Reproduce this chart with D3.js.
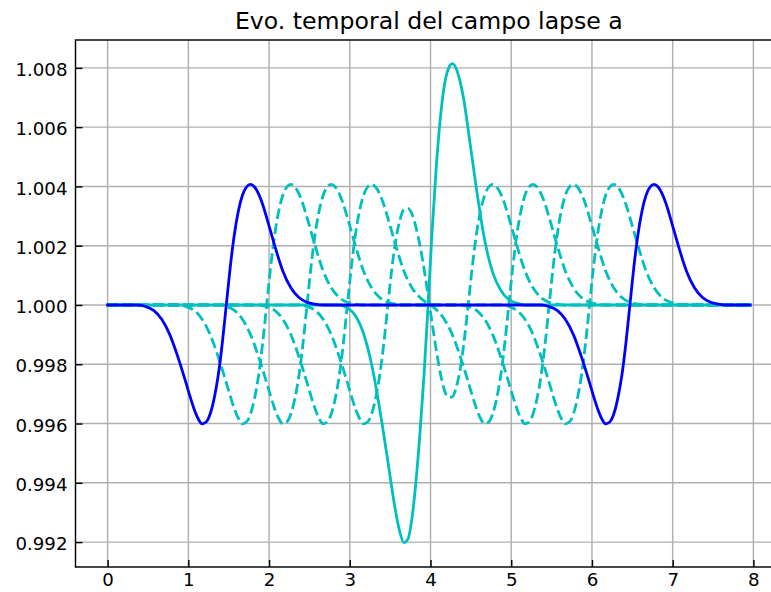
<!DOCTYPE html>
<html>
<head>
<meta charset="utf-8">
<script src="https://cdn.jsdelivr.net/npm/d3@7"></script>
<style>
   body { margin: 0; background: #fff; }
   svg { display: block; font-family: 'DejaVu Sans', sans-serif; }
</style>
</head>
<body>
<div class="line-chart-container"></div>
<script>
// lapse a(x) at successive times as [x, a] pairs

const title_text = 'Evo. temporal del campo lapse a';
const x_ticks = [0, 1, 2, 3, 4, 5, 6, 7, 8];
const y_ticks = [0.992, 0.994, 0.996, 0.998, 1.000, 1.002, 1.004, 1.006, 1.008];

const lapse_t0 = [
   [0.00, 1.00000],
   [0.37, 1.00000], [0.47, 0.99995], [0.57, 0.99982], [0.67, 0.99952], [0.77, 0.99900],
   [0.87, 0.99825], [0.97, 0.99738], [1.02, 0.99692], [1.07, 0.99650], [1.12, 0.99617],
   [1.17, 0.99599], [1.22, 0.99605], [1.27, 0.99632], [1.32, 0.99685], [1.37, 0.99762],
   [1.42, 0.99870], [1.47, 1.00000], [1.52, 1.00130], [1.57, 1.00238], [1.62, 1.00317],
   [1.67, 1.00370], [1.72, 1.00398], [1.77, 1.00407], [1.82, 1.00398], [1.87, 1.00375],
   [1.92, 1.00340], [1.97, 1.00295], [2.07, 1.00200], [2.17, 1.00115], [2.27, 1.00058],
   [2.37, 1.00025], [2.47, 1.00009], [2.57, 1.00003], [2.67, 1.00000],
   [5.37, 1.00000], [5.47, 0.99995], [5.57, 0.99982], [5.67, 0.99952], [5.77, 0.99900],
   [5.87, 0.99825], [5.97, 0.99738], [6.02, 0.99692], [6.07, 0.99650], [6.12, 0.99617],
   [6.17, 0.99599], [6.22, 0.99605], [6.27, 0.99632], [6.32, 0.99685], [6.37, 0.99762],
   [6.42, 0.99870], [6.47, 1.00000], [6.52, 1.00130], [6.57, 1.00238], [6.62, 1.00317],
   [6.67, 1.00370], [6.72, 1.00398], [6.77, 1.00407], [6.82, 1.00398], [6.87, 1.00375],
   [6.92, 1.00340], [6.97, 1.00295], [7.07, 1.00200], [7.17, 1.00115], [7.27, 1.00058],
   [7.37, 1.00025], [7.47, 1.00009], [7.57, 1.00003], [7.67, 1.00000],
   [7.96, 1.00000]
];

const lapse_t1 = [
   [0.00, 1.00000],
   [0.87, 1.00000], [0.97, 0.99995], [1.07, 0.99982], [1.17, 0.99952], [1.27, 0.99900],
   [1.37, 0.99825], [1.47, 0.99738], [1.52, 0.99692], [1.57, 0.99650], [1.62, 0.99617],
   [1.67, 0.99599], [1.72, 0.99605], [1.77, 0.99632], [1.82, 0.99685], [1.87, 0.99762],
   [1.92, 0.99870], [1.97, 1.00000], [2.02, 1.00130], [2.07, 1.00238], [2.12, 1.00317],
   [2.17, 1.00370], [2.22, 1.00398], [2.27, 1.00407], [2.32, 1.00398], [2.37, 1.00375],
   [2.42, 1.00340], [2.47, 1.00295], [2.57, 1.00200], [2.67, 1.00115], [2.77, 1.00058],
   [2.87, 1.00025], [2.97, 1.00009], [3.07, 1.00003], [3.17, 1.00000],
   [4.87, 1.00000], [4.97, 0.99995], [5.07, 0.99982], [5.17, 0.99952], [5.27, 0.99900],
   [5.37, 0.99825], [5.47, 0.99738], [5.52, 0.99692], [5.57, 0.99650], [5.62, 0.99617],
   [5.67, 0.99599], [5.72, 0.99605], [5.77, 0.99632], [5.82, 0.99685], [5.87, 0.99762],
   [5.92, 0.99870], [5.97, 1.00000], [6.02, 1.00130], [6.07, 1.00238], [6.12, 1.00317],
   [6.17, 1.00370], [6.22, 1.00398], [6.27, 1.00407], [6.32, 1.00398], [6.37, 1.00375],
   [6.42, 1.00340], [6.47, 1.00295], [6.57, 1.00200], [6.67, 1.00115], [6.77, 1.00058],
   [6.87, 1.00025], [6.97, 1.00009], [7.07, 1.00003], [7.17, 1.00000],
   [7.96, 1.00000]
];

const lapse_t2 = [
   [0.00, 1.00000],
   [1.37, 1.00000], [1.47, 0.99995], [1.57, 0.99982], [1.67, 0.99952], [1.77, 0.99900],
   [1.87, 0.99825], [1.97, 0.99738], [2.02, 0.99692], [2.07, 0.99650], [2.12, 0.99617],
   [2.17, 0.99599], [2.22, 0.99605], [2.27, 0.99632], [2.32, 0.99685], [2.37, 0.99762],
   [2.42, 0.99870], [2.47, 1.00000], [2.52, 1.00130], [2.57, 1.00238], [2.62, 1.00317],
   [2.67, 1.00370], [2.72, 1.00398], [2.77, 1.00407], [2.82, 1.00398], [2.87, 1.00375],
   [2.92, 1.00340], [2.97, 1.00295], [3.07, 1.00200], [3.17, 1.00115], [3.27, 1.00058],
   [3.37, 1.00025], [3.47, 1.00009], [3.57, 1.00003], [3.67, 1.00000],
   [4.37, 1.00000], [4.47, 0.99995], [4.57, 0.99982], [4.67, 0.99952], [4.77, 0.99900],
   [4.87, 0.99825], [4.97, 0.99738], [5.02, 0.99692], [5.07, 0.99650], [5.12, 0.99617],
   [5.17, 0.99599], [5.22, 0.99605], [5.27, 0.99632], [5.32, 0.99685], [5.37, 0.99762],
   [5.42, 0.99870], [5.47, 1.00000], [5.52, 1.00130], [5.57, 1.00238], [5.62, 1.00317],
   [5.67, 1.00370], [5.72, 1.00398], [5.77, 1.00407], [5.82, 1.00398], [5.87, 1.00375],
   [5.92, 1.00340], [5.97, 1.00295], [6.07, 1.00200], [6.17, 1.00115], [6.27, 1.00058],
   [6.37, 1.00025], [6.47, 1.00009], [6.57, 1.00003], [6.67, 1.00000],
   [7.96, 1.00000]
];

const lapse_t3 = [
   [0.00, 1.00000],
   [1.87, 1.00000], [1.97, 0.99995], [2.07, 0.99982], [2.17, 0.99952], [2.27, 0.99900],
   [2.37, 0.99825], [2.47, 0.99738], [2.52, 0.99692], [2.57, 0.99650], [2.62, 0.99617],
   [2.67, 0.99599], [2.72, 0.99605], [2.77, 0.99632], [2.82, 0.99685], [2.87, 0.99762],
   [2.92, 0.99870], [2.97, 1.00000], [3.02, 1.00130], [3.07, 1.00238], [3.12, 1.00317],
   [3.17, 1.00370], [3.22, 1.00398], [3.27, 1.00407], [3.32, 1.00398], [3.37, 1.00375],
   [3.42, 1.00340], [3.47, 1.00295], [3.57, 1.00200], [3.67, 1.00115], [3.77, 1.00058],
   [3.87, 1.00025], [3.97, 1.00004], [4.07, 0.99985], [4.17, 0.99952], [4.27, 0.99900],
   [4.37, 0.99825], [4.47, 0.99738], [4.52, 0.99692], [4.57, 0.99650], [4.62, 0.99617],
   [4.67, 0.99599], [4.72, 0.99605], [4.77, 0.99632], [4.82, 0.99685], [4.87, 0.99762],
   [4.92, 0.99870], [4.97, 1.00000], [5.02, 1.00130], [5.07, 1.00238], [5.12, 1.00317],
   [5.17, 1.00370], [5.22, 1.00398], [5.27, 1.00407], [5.32, 1.00398], [5.37, 1.00375],
   [5.42, 1.00340], [5.47, 1.00295], [5.57, 1.00200], [5.67, 1.00115], [5.77, 1.00058],
   [5.87, 1.00025], [5.97, 1.00009], [6.07, 1.00003], [6.17, 1.00000],
   [7.96, 1.00000]
];

const lapse_t4 = [
   [0.00, 1.00000],
   [2.37, 1.00000], [2.47, 0.99995], [2.57, 0.99982], [2.67, 0.99952], [2.77, 0.99900],
   [2.87, 0.99825], [2.97, 0.99738], [3.02, 0.99692], [3.07, 0.99650], [3.12, 0.99617],
   [3.17, 0.99599], [3.22, 0.99605], [3.27, 0.99632], [3.32, 0.99685], [3.37, 0.99762],
   [3.42, 0.99868], [3.47, 0.99995], [3.52, 1.00120], [3.57, 1.00220], [3.62, 1.00285],
   [3.67, 1.00322], [3.72, 1.00326], [3.77, 1.00307], [3.82, 1.00262], [3.87, 1.00200],
   [3.92, 1.00122], [3.97, 1.00033], [4.02, 0.99939], [4.07, 0.99850], [4.12, 0.99772],
   [4.17, 0.99714], [4.22, 0.99689], [4.27, 0.99690], [4.32, 0.99724], [4.37, 0.99787],
   [4.42, 0.99886], [4.47, 1.00009], [4.52, 1.00135], [4.57, 1.00241], [4.62, 1.00318],
   [4.67, 1.00370], [4.72, 1.00398], [4.77, 1.00407], [4.82, 1.00398], [4.87, 1.00375],
   [4.92, 1.00340], [4.97, 1.00295], [5.07, 1.00200], [5.17, 1.00115], [5.27, 1.00058],
   [5.37, 1.00025], [5.47, 1.00009], [5.57, 1.00003], [5.67, 1.00000],
   [7.96, 1.00000]
];

const lapse_t5 = [
   [0.00, 1.00000],
   [2.87, 1.00000], [2.97, 0.99990], [3.07, 0.99964], [3.17, 0.99904], [3.27, 0.99800],
   [3.37, 0.99650], [3.42, 0.99564], [3.47, 0.99476], [3.52, 0.99384], [3.57, 0.99300],
   [3.62, 0.99234], [3.67, 0.99198], [3.72, 0.99210], [3.77, 0.99280], [3.82, 0.99405],
   [3.87, 0.99570], [3.92, 0.99765], [3.97, 1.00000], [4.02, 1.00250], [4.07, 1.00460],
   [4.12, 1.00625], [4.17, 1.00738], [4.22, 1.00796], [4.27, 1.00814], [4.32, 1.00796],
   [4.37, 1.00750], [4.42, 1.00680], [4.47, 1.00585], [4.57, 1.00390], [4.67, 1.00220],
   [4.77, 1.00110], [4.87, 1.00050], [4.97, 1.00018], [5.07, 1.00006], [5.17, 1.00000],
   [7.96, 1.00000]
];

function prepare_series() {
   // drawing order: dashed steps first, final state, initial state on top
   return [
      {name: 't1', values: lapse_t1, color: '#00bfbf', dash: '10.6,4.5'},
      {name: 't2', values: lapse_t2, color: '#00bfbf', dash: '10.6,4.5'},
      {name: 't3', values: lapse_t3, color: '#00bfbf', dash: '10.6,4.5'},
      {name: 't4', values: lapse_t4, color: '#00bfbf', dash: '10.6,4.5'},
      {name: 't5', values: lapse_t5, color: '#00bfbf', dash: null},
      {name: 't0', values: lapse_t0, color: '#0000ff', dash: null}
   ];
}

function build_container(width, height) {
   return d3.select('.line-chart-container')
      .append('svg')
      .attr('width', width)
      .attr('height', height);
}

function build_x_scale() {
   return d3.scaleLinear()
      .domain([-0.398, 8.358])
      .range([75.5, 782.3]);
}

function build_y_scale() {
   return d3.scaleLinear()
      .domain([0.99116, 1.00894])
      .range([567, 40]);
}

function draw_grid(svg, x_scale, y_scale) {
   const grid = svg.append('g').attr('class', 'grid');
   const [y0, y1] = y_scale.range();
   const [x0, x1] = x_scale.range();

   grid.selectAll('.vgrid')
      .data(x_ticks)
      .enter()
      .append('line')
      .attr('x1', d => x_scale(d))
      .attr('x2', d => x_scale(d))
      .attr('y1', y0)
      .attr('y2', y1)
      .style('stroke', '#b0b0b0')
      .style('stroke-width', 1.45);

   grid.selectAll('.hgrid')
      .data(y_ticks)
      .enter()
      .append('line')
      .attr('x1', x0)
      .attr('x2', x1)
      .attr('y1', d => y_scale(d))
      .attr('y2', d => y_scale(d))
      .style('stroke', '#b0b0b0')
      .style('stroke-width', 1.45);
}

function draw_lines(svg, x_scale, y_scale, series) {
   const [x0, x1] = x_scale.range();
   const [y0, y1] = y_scale.range();

   svg.append('clipPath')
      .attr('id', 'plot-area')
      .append('rect')
      .attr('x', x0)
      .attr('y', y1)
      .attr('width', x1 - x0)
      .attr('height', y0 - y1);

   const line_gen = d3.line()
      .x(d => x_scale(d[0]))
      .y(d => y_scale(d[1]))
      .curve(d3.curveMonotoneX);

   svg.append('g')
      .attr('clip-path', 'url(#plot-area)')
      .selectAll('.line-series')
      .data(series)
      .enter()
      .append('path')
      .attr('class', d => `line-series ${d.name}`)
      .attr('d', d => line_gen(d.values))
      .style('fill', 'none')
      .style('stroke', d => d.color)
      .style('stroke-width', 2.8)
      .style('stroke-linejoin', 'round')
      .style('stroke-linecap', d => d.dash ? 'butt' : 'square')
      .style('stroke-dasharray', d => d.dash);
}

function draw_axes(svg, x_scale, y_scale) {
   const [x0, x1] = x_scale.range();
   const [y0, y1] = y_scale.range();

   // ticks point inwards, labels sit outside the frame
   const x_axis = d3.axisBottom(x_scale)
      .tickValues(x_ticks)
      .tickFormat(d3.format('d'))
      .tickSizeInner(-7)
      .tickSizeOuter(0)
      .tickPadding(6);

   const y_axis = d3.axisLeft(y_scale)
      .tickValues(y_ticks)
      .tickFormat(d3.format('.3f'))
      .tickSizeInner(-7)
      .tickSizeOuter(0)
      .tickPadding(8);

   const gx = svg.append('g')
      .attr('class', 'x axis')
      .attr('transform', `translate(0, ${y0})`)
      .call(x_axis);

   const gy = svg.append('g')
      .attr('class', 'y axis')
      .attr('transform', `translate(${x0}, 0)`)
      .call(y_axis);

   gy.selectAll('.tick text').attr('dy', '0.42em');

   [gx, gy].forEach(g => {
      g.select('.domain').remove();
      g.selectAll('.tick line').style('stroke', '#000').style('stroke-width', 1.45);
      g.selectAll('.tick text')
         .style('font-family', "'DejaVu Sans', sans-serif")
         .style('font-size', '18.2px')
         .style('fill', '#000');
   });

   // frame (the right edge falls outside the picture)
   svg.append('rect')
      .attr('x', x0)
      .attr('y', y1)
      .attr('width', x1 - x0)
      .attr('height', y0 - y1)
      .style('fill', 'none')
      .style('stroke', '#000')
      .style('stroke-width', 1.45);
}

function add_title(svg, x_scale) {
   const [x0, x1] = x_scale.range();
   svg.append('text')
      .attr('x', (x0 + x1) / 2)
      .attr('y', 28.5)
      .attr('text-anchor', 'middle')
      .style('font-size', '23.6px')
      .style('fill', '#000')
      .text(title_text);
}

function line_chart_main() {
   const width = 771;
   const height = 592;

   const series = prepare_series();
   const x_scale = build_x_scale();
   const y_scale = build_y_scale();
   const svg = build_container(width, height);

   draw_grid(svg, x_scale, y_scale);
   draw_lines(svg, x_scale, y_scale, series);
   draw_axes(svg, x_scale, y_scale);
   add_title(svg, x_scale);
}

line_chart_main();
</script>
</body>
</html>
